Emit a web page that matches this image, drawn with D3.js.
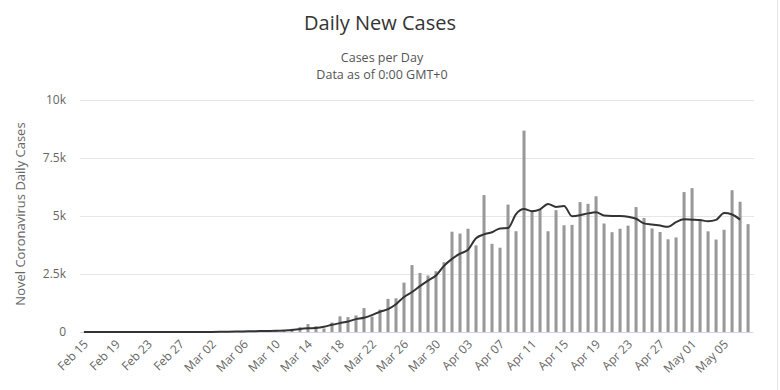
<!DOCTYPE html>
<html>
<head>
<meta charset="utf-8">
<script src="https://cdn.jsdelivr.net/npm/d3@7"></script>
<style>
  body { margin: 0; background: #fff; }
  text { font-family: "Open Sans", "DejaVu Sans", sans-serif; }
</style>
</head>
<body>
<div id="chart-area"></div>
<script>
// first day of the series, one bar per day after it
var startDate = new Date(2020, 1, 15);

// daily new cases, Feb 15 .. May 08
var dailyCases = [
    0, 0, 0, 0, 0, 0, 0, 0, 0, 4,
    0, 0, 2, 5, 3, 13, 4, 11, 34, 30,
    48, 43, 67, 48, 52, 83, 134, 208, 342, 251,
    152, 407, 676, 643, 714, 1035, 665, 967, 1427, 1452,
    2129, 2885, 2546, 2433, 2619, 3009, 4324, 4244, 4450, 3735,
    5903, 3802, 3634, 5491, 4344, 8681, 5233, 5288, 4342, 5252,
    4603, 4617, 5599, 5525, 5850, 4676, 4301, 4451, 4583, 5386,
    4913, 4463, 4309, 3996, 4076, 6032, 6201, 4806, 4339, 3985,
    4406, 6111, 5614, 4649
];

// moving average line, Feb 15 .. May 07
var avgCases = [
    0, 0, 0, 0, 0, 0, 0, 0, 1, 1,
    1, 1, 2, 2, 4, 4, 5, 10, 14, 20,
    26, 34, 40, 46, 53, 68, 91, 133, 160, 175,
    225, 310, 383, 455, 554, 613, 730, 875, 986, 1198,
    1509, 1724, 1977, 2213, 2439, 2849, 3151, 3375, 3545, 4041,
    4210, 4299, 4466, 4480, 5084, 5298, 5210, 5288, 5519, 5392,
    5431, 4991, 5032, 5113, 5160, 5024, 5003, 4998, 4967, 4880,
    4682, 4629, 4586, 4532, 4739, 4856, 4840, 4823, 4776, 4835,
    5126, 5066, 4844
];

var xTickLabels = ["Feb 15", "Feb 19", "Feb 23", "Feb 27", "Mar 02", "Mar 06", "Mar 10",
    "Mar 14", "Mar 18", "Mar 22", "Mar 26", "Mar 30", "Apr 03", "Apr 07", "Apr 11",
    "Apr 15", "Apr 19", "Apr 23", "Apr 27", "May 01", "May 05"];
var yTicks = [0, 2500, 5000, 7500, 10000];
var yTickLabels = ["0", "2.5k", "5k", "7.5k", "10k"];

var W = 780, H = 390;
var margin = { left: 80, right: 28, top: 100, bottom: 58 };
var width = W - margin.left - margin.right;
var height = H - margin.top - margin.bottom;

var fmt = d3.timeFormat("%b %d");
var days = dailyCases.map(function (v, i) { return fmt(d3.timeDay.offset(startDate, i)); });

var svg = d3.select("#chart-area")
    .append("svg")
    .attr("width", W)
    .attr("height", H);

// light frame line at the right
svg.append("line")
    .attr("x1", W - 2.5).attr("x2", W - 2.5)
    .attr("y1", 0).attr("y2", H)
    .attr("stroke", "#e4e4e4");

// titles
svg.append("text")
    .attr("x", 380).attr("y", 30)
    .attr("text-anchor", "middle")
    .attr("font-size", "20px")
    .attr("fill", "#333")
    .text("Daily New Cases");

svg.append("text")
    .attr("x", 382).attr("y", 62)
    .attr("text-anchor", "middle")
    .attr("font-size", "12.5px")
    .attr("fill", "#555")
    .text("Cases per Day");

svg.append("text")
    .attr("x", 382).attr("y", 79)
    .attr("text-anchor", "middle")
    .attr("font-size", "12.5px")
    .attr("fill", "#555")
    .text("Data as of 0:00 GMT+0");

var group = svg.append("g")
    .attr("transform", "translate(" + margin.left + "," + margin.top + ")");

var x = d3.scaleBand()
    .domain(days)
    .range([0, width])
    .paddingInner(0.62)
    .paddingOuter(0.3);

var y = d3.scaleLinear()
    .domain([0, 10000])
    .range([height, 0]);

// grid lines + y labels
var yAxisCall = d3.axisLeft(y)
    .tickValues(yTicks)
    .tickSize(-width - 2)
    .tickFormat(function (d, i) { return yTickLabels[i]; });

var yAxisGroup = group.append("g")
    .attr("class", "y-axis")
    .call(yAxisCall);
yAxisGroup.select(".domain").remove();
yAxisGroup.selectAll(".tick line").attr("stroke", "#e6e6e6");
yAxisGroup.selectAll(".tick text")
    .attr("x", -14)
    .attr("font-size", "12px")
    .attr("font-family", "\"Open Sans\", sans-serif")
    .attr("fill", "#666");

// y label
group.append("text")
    .attr("transform", "rotate(-90)")
    .attr("x", -(height / 2) + 2)
    .attr("y", -55)
    .attr("text-anchor", "middle")
    .attr("font-size", "13px")
    .attr("fill", "#666")
    .text("Novel Coronavirus Daily Cases");

// x axis
var xAxisCall = d3.axisBottom(x)
    .tickValues(xTickLabels)
    .tickSize(0);

var xAxisGroup = group.append("g")
    .attr("class", "x axis")
    .attr("transform", "translate(0," + height + ")")
    .call(xAxisCall);
xAxisGroup.select(".domain").attr("stroke", "#ccd6eb");
xAxisGroup.selectAll(".tick text")
    .attr("y", 0)
    .attr("dy", 0)
    .attr("text-anchor", "end")
    .attr("font-size", "12px")
    .attr("font-family", "\"Open Sans\", sans-serif")
    .attr("fill", "#666")
    .attr("transform", "translate(5,13) rotate(-45)");

// bars
group.selectAll("rect.bar")
    .data(dailyCases)
    .enter()
    .append("rect")
    .attr("class", "bar")
    .attr("x", function (d, i) { return x(days[i]); })
    .attr("y", function (d) { return y(d); })
    .attr("width", x.bandwidth())
    .attr("height", function (d) { return height - y(d); })
    .attr("fill", "#999");

// moving average
var line = d3.line()
    .x(function (d, i) { return x(days[i]) + x.bandwidth() / 2; })
    .y(function (d) { return y(d); })
    .curve(d3.curveMonotoneX);

group.append("path")
    .datum(avgCases)
    .attr("d", line)
    .attr("fill", "none")
    .attr("stroke", "#333")
    .attr("stroke-width", 2);
</script>
</body>
</html>
